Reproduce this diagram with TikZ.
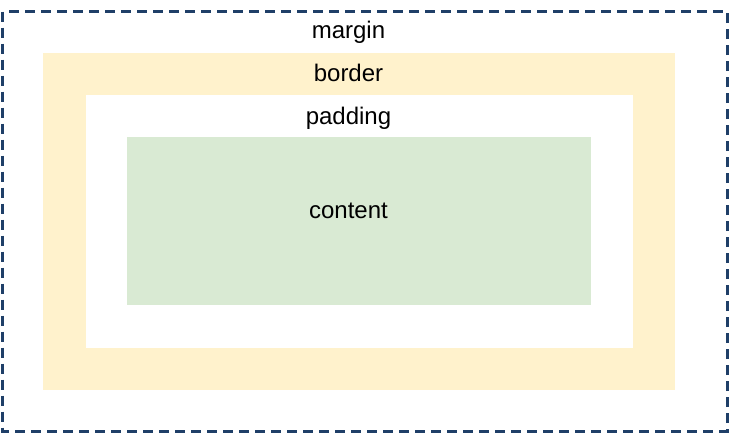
\documentclass[tikz,border=0pt]{standalone}
\usepackage{fontspec}
\setmainfont{Liberation Sans}
\usepackage{tikz}

\definecolor{bordercol}{HTML}{FFF2CC}
\definecolor{contentcol}{HTML}{D9EAD3}
\definecolor{margincol}{HTML}{1F3F68}

\begin{document}
\begin{tikzpicture}[x=1pt, y=-1pt, label/.style = {anchor=base, inner sep=0pt, font=\fontsize{24}{28}\selectfont}]
	\useasboundingbox (0,0) rectangle (729,434);
	\draw[margincol, line width=3pt, dash pattern=on 10pt off 6pt] (2.5,11.5) rectangle (727,431);
	\fill[bordercol] (43,52.5) rectangle (675,390);
	\fill[white] (85.5,94.5) rectangle (633,348);
	\fill[contentcol] (127,137) rectangle (591,305);
	\node[label] (margin) at (348.5,38.5) {margin};
	\node[label] (border) at (348.5,81.5) {border};
	\node[label] (padding) at (348.5,124) {padding};
	\node[label] (content) at (348.5,218.5) {content};
\end{tikzpicture}
\end{document}
